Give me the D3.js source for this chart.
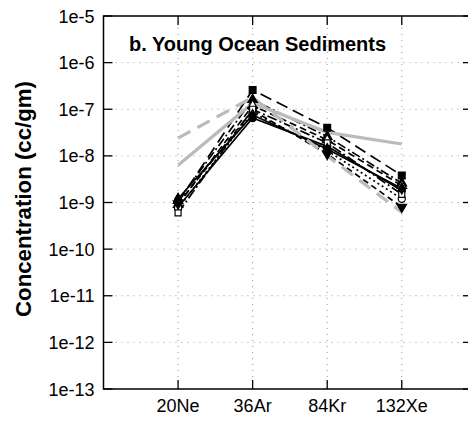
<!DOCTYPE html>
<html>
<head>
<meta charset="utf-8">
<script src="https://cdn.jsdelivr.net/npm/d3@7.9.0/dist/d3.min.js"></script>
<style>
  body { margin: 0; background: #fff; }
  svg { display: block; font-family: Arial, "Liberation Sans", sans-serif; }
</style>
</head>
<body>
<svg width="468" height="421"></svg>
<script>
// isotopes along the x axis
const elements = ['20Ne', '36Ar', '84Kr', '132Xe'];
const yTicks = [1e-13, 1e-12, 1e-11, 1e-10, 1e-9, 1e-8, 1e-7, 1e-6, 1e-5];
const yTickLabels = ['1e-13', '1e-12', '1e-11', '1e-10', '1e-9', '1e-8', '1e-7', '1e-6', '1e-5'];

// black sample curves (cc/gm)
const sampleSquare = [1.0e-9, 2.6e-7, 4.0e-8, 3.8e-9];
const sampleTriUp = [1.1e-9, 1.6e-7, 2.6e-8, 2.6e-9];
const sampleOpenTri = [0.9e-9, 1.2e-7, 2.2e-8, 2.3e-9];
const sampleCircle = [0.8e-9, 6.5e-8, 1.6e-8, 1.8e-9];
const sampleOpenCircle = [0.75e-9, 8.5e-8, 1.3e-8, 1.2e-9];
const sampleTriDown = [0.95e-9, 9.5e-8, 1.1e-8, 0.8e-9];
const sampleOpenSquare = [0.6e-9, 1.0e-7, 1.9e-8, 1.5e-9];
const sampleDiamond = [1.2e-9, 7.5e-8, 1.4e-8, 2.0e-9];

// grey reference curves
const greyDashed = [2.4e-8, 1.8e-7, 1.0e-8, 6.2e-10];
const greySolid = [6.3e-9, 1.35e-7, 3.2e-8, 1.8e-8];

const svg = d3.select('svg');
const plotLeft = 103.5, plotRight = 470, plotTop = 16, plotBottom = 389;

let x = d3.scaleLinear().domain([0, 4.915]).range([plotLeft, plotRight]);
let y = d3.scaleLog().domain([1e-13, 1e-5]).range([plotBottom, plotTop]);

// dotted grid
yTicks.slice(1, -1).forEach((t) => {
  svg.append('line')
    .attr('x1', plotLeft).attr('x2', plotRight)
    .attr('y1', y(t)).attr('y2', y(t))
    .attr('stroke', '#999').attr('stroke-width', 1)
    .attr('stroke-dasharray', '1,5');
});
elements.forEach((e, i) => {
  svg.append('line')
    .attr('x1', x(i + 1)).attr('x2', x(i + 1))
    .attr('y1', plotTop).attr('y2', plotBottom)
    .attr('stroke', '#999').attr('stroke-width', 1)
    .attr('stroke-dasharray', '1,5');
});

// frame and inward ticks
svg.append('path')
  .attr('d', `M${plotRight},${plotTop}H${plotLeft}V${plotBottom}H${plotRight}`)
  .attr('fill', 'none').attr('stroke', '#000').attr('stroke-width', 1.5);

yTicks.forEach((t, i) => {
  svg.append('line').attr('x1', plotLeft).attr('x2', plotLeft + 9)
    .attr('y1', y(t)).attr('y2', y(t)).attr('stroke', '#000').attr('stroke-width', 1.3);
  svg.append('line').attr('x1', plotRight - 7).attr('x2', plotRight)
    .attr('y1', y(t)).attr('y2', y(t)).attr('stroke', '#000').attr('stroke-width', 1.3);
  svg.append('text')
    .attr('x', plotLeft - 9).attr('y', y(t) + 6.5)
    .attr('text-anchor', 'end').attr('font-size', 18)
    .text(yTickLabels[i]);
});

elements.forEach((e, i) => {
  svg.append('line').attr('x1', x(i + 1)).attr('x2', x(i + 1))
    .attr('y1', plotBottom).attr('y2', plotBottom - 9).attr('stroke', '#000').attr('stroke-width', 1.3);
  svg.append('line').attr('x1', x(i + 1)).attr('x2', x(i + 1))
    .attr('y1', plotTop).attr('y2', plotTop + 9).attr('stroke', '#000').attr('stroke-width', 1.3);
  svg.append('text')
    .attr('x', x(i + 1)).attr('y', 412)
    .attr('text-anchor', 'middle').attr('font-size', 18)
    .text(e);
});

let line = d3.line().x((d, i) => x(i + 1)).y((d) => y(d));

const blackSeries = [
  { values: sampleSquare, dash: '12,6', symbol: d3.symbolSquare, size: 46, fill: '#000' },
  { values: sampleTriUp, dash: '9,3,2,3', symbol: d3.symbolTriangle, size: 40, fill: '#000' },
  { values: sampleOpenTri, dash: '7,4', symbol: d3.symbolTriangle, size: 40, fill: '#fff' },
  { values: sampleCircle, dash: null, symbol: d3.symbolCircle, size: 40, fill: '#000' },
  { values: sampleOpenCircle, dash: '2,3', symbol: d3.symbolCircle, size: 40, fill: '#fff' },
  { values: sampleTriDown, dash: '6,4', symbol: d3.symbolTriangle, size: 40, fill: '#000', flip: true },
  { values: sampleOpenSquare, dash: '10,3,2,3', symbol: d3.symbolSquare, size: 36, fill: '#fff' },
  { values: sampleDiamond, dash: null, symbol: d3.symbolDiamond, size: 36, fill: '#000' },
];

blackSeries.forEach((s) => {
  svg.append('path')
    .attr('d', line(s.values))
    .attr('fill', 'none').attr('stroke', '#000').attr('stroke-width', 1.7)
    .attr('stroke-dasharray', s.dash);
});

[{ values: greyDashed, dash: '14,8' }, { values: greySolid, dash: null }].forEach((s) => {
  svg.append('path')
    .attr('d', line(s.values))
    .attr('fill', 'none').attr('stroke', '#bbb').attr('stroke-width', 3.2)
    .attr('stroke-dasharray', s.dash);
});

blackSeries.forEach((s) => {
  s.values.forEach((v, i) => {
    svg.append('path')
      .attr('d', d3.symbol().type(s.symbol).size(s.size)())
      .attr('transform', `translate(${x(i + 1)},${y(v)})` + (s.flip ? ' rotate(180)' : ''))
      .attr('fill', s.fill).attr('stroke', '#000').attr('stroke-width', 1.2);
  });
});

// title and axis label
svg.append('text')
  .attr('x', 129).attr('y', 51)
  .attr('font-size', 20).attr('font-weight', 'bold')
  .text('b. Young Ocean Sediments');

svg.append('text')
  .attr('transform', 'translate(31,199) rotate(-90)')
  .attr('text-anchor', 'middle')
  .attr('font-size', 22).attr('font-weight', 'bold')
  .attr('textLength', 236).attr('lengthAdjust', 'spacingAndGlyphs')
  .text('Concentration (cc/gm)');
</script>
</body>
</html>
